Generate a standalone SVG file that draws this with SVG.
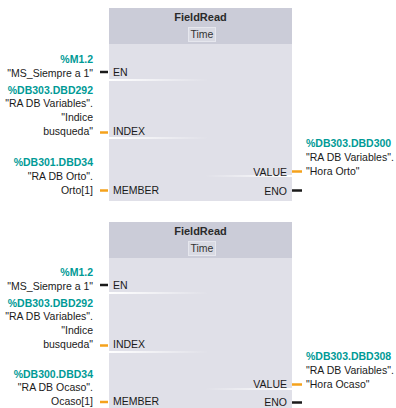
<svg xmlns="http://www.w3.org/2000/svg" width="396" height="408" viewBox="0 0 396 408">
<style>
text{font-family:"Liberation Sans",Arial,sans-serif;font-size:10.5px;fill:#1a1a1a}
.addr{font-weight:bold;fill:#009a96}
.r{text-anchor:end}
.title{font-weight:bold;font-size:11px;fill:#2a2a2a;text-anchor:middle}
.type{text-anchor:middle;fill:#333}
.body{fill:#e0e0e8}
.head{fill:#cbccd8}
.tbox{fill:#d9dae3;stroke:#e6e7ee;stroke-width:1}
.bw{stroke:#1a1a1a;stroke-width:2.5}
.bo{stroke:#f5a21c;stroke-width:2.5}
</style>
<defs>
<linearGradient id="gl" x1="0" y1="0" x2="1" y2="0">
<stop offset="0" stop-color="#fff" stop-opacity="1"/>
<stop offset="1" stop-color="#fff" stop-opacity="0"/>
</linearGradient>
<linearGradient id="gr" x1="0" y1="0" x2="1" y2="0">
<stop offset="0" stop-color="#fff" stop-opacity="0"/>
<stop offset="1" stop-color="#fff" stop-opacity="1"/>
</linearGradient>
</defs>

<g id="block1">
<rect class="body" x="109" y="8" width="183" height="193"/>
<rect class="head" x="109" y="8" width="183" height="36"/>
<text class="title" x="200.5" y="21">FieldRead</text>
<rect class="tbox" x="188.5" y="27.5" width="27" height="14"/>
<text class="type" x="202" y="38">Time</text>
<rect x="109" y="79" width="100" height="2" fill="url(#gl)"/>
<rect x="109" y="137" width="100" height="2" fill="url(#gl)"/>
<rect x="205" y="175" width="87" height="2" fill="url(#gr)"/>
<text x="113" y="76">EN</text>
<text x="113" y="135">INDEX</text>
<text x="113" y="194">MEMBER</text>
<text class="r" x="287" y="176">VALUE</text>
<text class="r" x="287" y="195">ENO</text>
</g>

<g id="block2">
<rect class="body" x="109" y="222" width="183" height="193"/>
<rect class="head" x="109" y="222" width="183" height="36"/>
<text class="title" x="200.5" y="235">FieldRead</text>
<rect class="tbox" x="188.5" y="241.5" width="27" height="14"/>
<text class="type" x="202" y="252">Time</text>
<rect x="109" y="292" width="100" height="2" fill="url(#gl)"/>
<rect x="109" y="351" width="100" height="2" fill="url(#gl)"/>
<rect x="205" y="388" width="87" height="2" fill="url(#gr)"/>
<text x="113" y="289">EN</text>
<text x="113" y="348">INDEX</text>
<text x="113" y="405">MEMBER</text>
<text class="r" x="287" y="388">VALUE</text>
<text class="r" x="287" y="406">ENO</text>
</g>

<g id="operands1">
<text class="addr r" x="93" y="63">%M1.2</text>
<text class="r" x="93" y="77">"MS_Siempre a 1"</text>
<text class="addr r" x="93" y="94">%DB303.DBD292</text>
<text class="r" x="93" y="107">"RA DB Variables".</text>
<text class="r" x="93" y="121">"Indice</text>
<text class="r" x="93" y="135">busqueda"</text>
<text class="addr r" x="93" y="166">%DB301.DBD34</text>
<text class="r" x="93" y="180">"RA DB Orto".</text>
<text class="r" x="93" y="194">Orto[1]</text>
<text class="addr" x="306" y="147">%DB303.DBD300</text>
<text x="306" y="161">"RA DB Variables".</text>
<text x="306" y="175">"Hora Orto"</text>
</g>

<g id="operands2">
<text class="addr r" x="93" y="276">%M1.2</text>
<text class="r" x="93" y="290">"MS_Siempre a 1"</text>
<text class="addr r" x="93" y="307">%DB303.DBD292</text>
<text class="r" x="93" y="320">"RA DB Variables".</text>
<text class="r" x="93" y="334">"Indice</text>
<text class="r" x="93" y="348">busqueda"</text>
<text class="addr r" x="93" y="378">%DB300.DBD34</text>
<text class="r" x="93" y="391">"RA DB Ocaso".</text>
<text class="r" x="93" y="405">Ocaso[1]</text>
<text class="addr" x="306" y="360">%DB303.DBD308</text>
<text x="306" y="374">"RA DB Variables".</text>
<text x="306" y="388">"Hora Ocaso"</text>
</g>

<g id="connectors">
<line class="bw" x1="100" y1="72" x2="108" y2="72"/>
<line class="bo" x1="100" y1="132.5" x2="108" y2="132.5"/>
<line class="bo" x1="100" y1="190.5" x2="108" y2="190.5"/>
<line class="bo" x1="292" y1="171.5" x2="302" y2="171.5"/>
<line class="bw" x1="292" y1="190.5" x2="302" y2="190.5"/>
<line class="bw" x1="100" y1="285" x2="108" y2="285"/>
<line class="bo" x1="100" y1="345.5" x2="108" y2="345.5"/>
<line class="bo" x1="100" y1="402" x2="108" y2="402"/>
<line class="bo" x1="292" y1="384.5" x2="302" y2="384.5"/>
<line class="bw" x1="292" y1="402.5" x2="302" y2="402.5"/>
</g>
</svg>
